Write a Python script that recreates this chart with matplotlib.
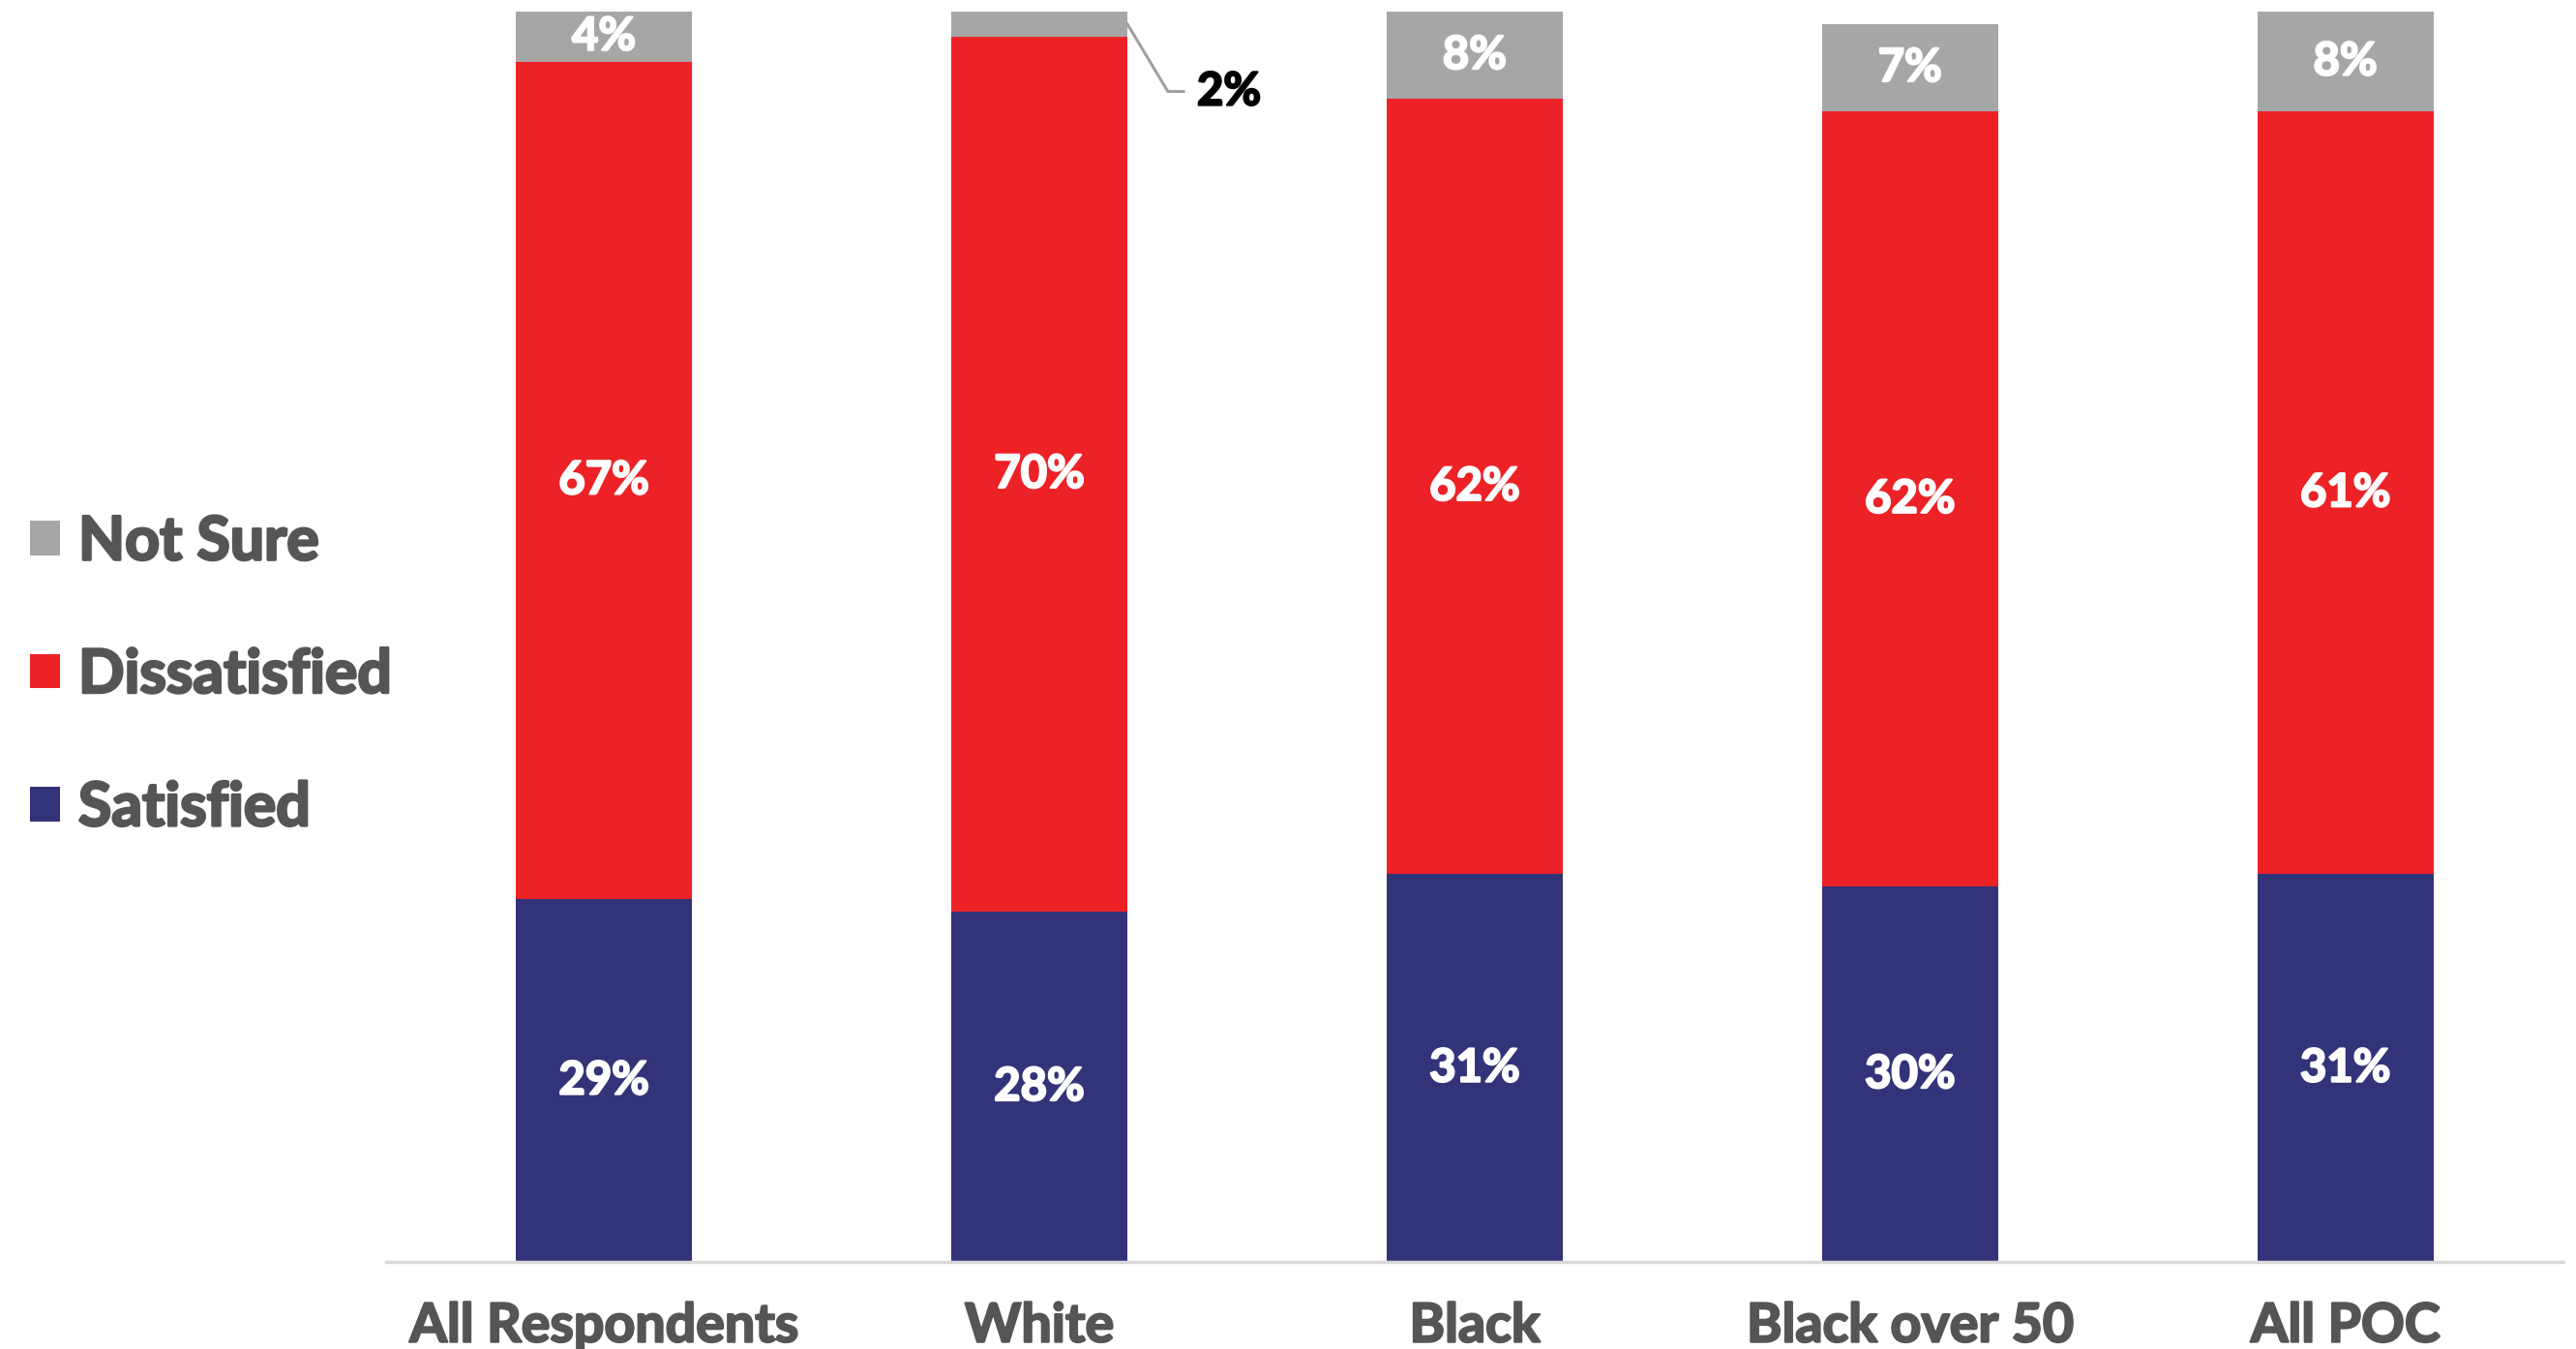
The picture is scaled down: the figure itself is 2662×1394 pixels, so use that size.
import matplotlib
matplotlib.use('Agg')
import matplotlib.pyplot as plt
import matplotlib.patheffects as pe
import numpy as np

# values (segment heights) and the printed labels
groups = ['All Respondents', 'White', 'Black', 'Black over 50', 'All POC']
satisfied = [29, 28, 31, 30, 31]
dissatisfied = [67, 70, 62, 62, 61]
not_sure = [4, 2, 7, 7, 8]

satisfied_lbl = ['29%', '28%', '31%', '30%', '31%']
dissatisfied_lbl = ['67%', '70%', '62%', '62%', '61%']
not_sure_lbl = ['4%', '2%', '8%', '7%', '8%']

C_SAT = '#323378'
C_DIS = '#EC2227'
C_NS = '#A6A6A6'
C_TXT = '#555555'

plt.rcParams['font.family'] = ['Lato', 'DejaVu Sans']


def heavy(color, lw=1.6):
    # Lato Bold is the heaviest installed cut, thicken it a little
    return [pe.withStroke(linewidth=lw, foreground=color)]


fig = plt.figure(figsize=(26.62, 13.94), dpi=100)
ax = fig.add_axes([0.150, 0.0646, 0.845, 0.9269])

x = np.arange(len(groups))
w = 0.404
sat = np.array(satisfied)
dis = np.array(dissatisfied)
ns = np.array(not_sure)

ax.bar(x, sat, w, color=C_SAT, label='Satisfied')
ax.bar(x, dis, w, bottom=sat, color=C_DIS, label='Dissatisfied')
ax.bar(x, ns, w, bottom=sat + dis, color=C_NS, label='Not Sure')

lab_kw = dict(ha='center', va='center', color='white', fontsize=34, fontweight='bold',
              path_effects=heavy('white'))
for i in range(len(groups)):
    ax.text(x[i], sat[i] / 2, satisfied_lbl[i], **lab_kw)
    ax.text(x[i], sat[i] + dis[i] / 2, dissatisfied_lbl[i], **lab_kw)
    if groups[i] == 'White':
        # small segment: label outside with a leader line
        top = sat[i] + dis[i] + ns[i] / 2
        x0 = x[i] + w / 2
        ax.plot([x0, x0 + 0.093, x0 + 0.129], [top, top - 5.4, top - 5.4],
                color='#A0A0A0', lw=2.2, clip_on=False)
        ax.text(x0 + 0.16, top - 5.4, not_sure_lbl[i], ha='left', va='center',
                color='black', fontsize=34, fontweight='bold', path_effects=heavy('black'))
    else:
        ax.text(x[i], sat[i] + dis[i] + ns[i] / 2, not_sure_lbl[i], **lab_kw)

ax.set_xlim(-0.5, 4.5)
ax.set_ylim(0, 100)
ax.set_yticks([])
ax.set_xticks(x)
ax.set_xticklabels(groups, fontsize=40, fontweight='bold', color=C_TXT)
for t in ax.get_xticklabels():
    t.set_path_effects(heavy(C_TXT))
ax.tick_params(axis='x', length=0, pad=30)
for s in ['top', 'right', 'left']:
    ax.spines[s].set_visible(False)
ax.spines['bottom'].set_color('#D9D9D9')
ax.spines['bottom'].set_linewidth(2.5)

# legend drawn at the left, Not Sure on top
handles, labels = ax.get_legend_handles_labels()
leg = fig.legend(handles[::-1], labels[::-1], loc='center left',
                 bbox_to_anchor=(31 / 2662, 0.4994), borderpad=0, borderaxespad=0,
                 frameon=False, labelspacing=1.27, handlelength=0.5,
                 handleheight=0.5, handletextpad=0.3,
                 prop={'weight': 'bold', 'size': 45})
for t in leg.get_texts():
    t.set_color(C_TXT)
    t.set_path_effects(heavy(C_TXT, 2))

fig.savefig('out.png', dpi=100)
